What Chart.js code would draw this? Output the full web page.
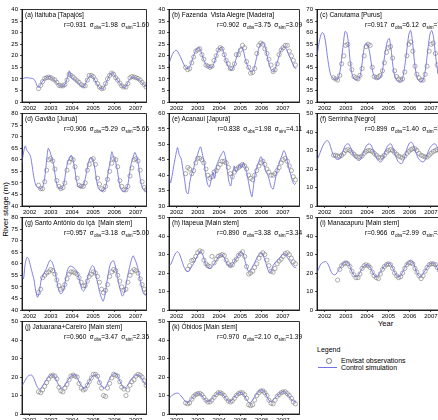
<!DOCTYPE html>
<html>
<head>
<meta charset="utf-8">
<script src="https://cdn.jsdelivr.net/npm/chart.js@4.4.1/dist/chart.umd.min.js"></script>
<style>
  body { margin: 0; background: #fff; }
  #wrap { position: relative; width: 438px; height: 420px; overflow: hidden; font-family: "Liberation Sans", Arial, sans-serif; color: #000; }
  .panel { position: absolute; }
  .ttl, .st { position: absolute; font-size: 6.5px; line-height: 7px; white-space: pre; }
  .st sub { font-size: 4.6px; vertical-align: -1.5px; line-height: 0; }
  .lbl { position: absolute; white-space: nowrap; }
</style>
</head>
<body>
<div id="wrap">
  <div class="lbl" style="left:-27px;top:205px;font-size:8px;transform:rotate(-90deg);width:64px;text-align:center;">River stage (m)</div>
  <div class="lbl" style="left:378px;top:319px;font-size:7.5px;">Year</div>
  <div class="lbl" style="left:317px;top:346px;font-size:7px;">Legend</div>
  <div style="position:absolute;left:326px;top:358px;width:3.6px;height:3.6px;border:0.7px solid #777;border-radius:50%;"></div>
  <div class="lbl" style="left:341px;top:356.5px;font-size:7px;">Envisat observations</div>
  <div style="position:absolute;left:318px;top:367px;width:19px;height:0;border-top:1px solid #7272e2;"></div>
  <div class="lbl" style="left:341px;top:363.5px;font-size:7px;">Control simulation</div>
</div>
<script>
// mois de la simulation (milieu du mois)
const simMonths = [
  "2001-08","2001-09","2001-10","2001-11","2001-12",
  "2002-01","2002-02","2002-03","2002-04","2002-05","2002-06","2002-07","2002-08","2002-09","2002-10","2002-11","2002-12",
  "2003-01","2003-02","2003-03","2003-04","2003-05","2003-06","2003-07","2003-08","2003-09","2003-10","2003-11","2003-12",
  "2004-01","2004-02","2004-03","2004-04","2004-05","2004-06","2004-07","2004-08","2004-09","2004-10","2004-11","2004-12",
  "2005-01","2005-02","2005-03","2005-04","2005-05","2005-06","2005-07","2005-08","2005-09","2005-10","2005-11","2005-12",
  "2006-01","2006-02","2006-03","2006-04","2006-05","2006-06","2006-07","2006-08","2006-09","2006-10","2006-11","2006-12",
  "2007-01","2007-02","2007-03","2007-04","2007-05","2007-06","2007-07","2007-08"
];

// passages Envisat (annee decimale)
const obsDates = [
  2002.42, 2002.52, 2002.61, 2002.71, 2002.80, 2002.90, 2002.99,
  2003.09, 2003.19, 2003.28, 2003.38, 2003.47, 2003.57, 2003.66, 2003.76, 2003.86, 2003.95,
  2004.05, 2004.14, 2004.24, 2004.33, 2004.43, 2004.53, 2004.62, 2004.72, 2004.81, 2004.91,
  2005.00, 2005.10, 2005.20, 2005.29, 2005.39, 2005.48, 2005.58, 2005.67, 2005.77, 2005.87, 2005.96,
  2006.06, 2006.15, 2006.25, 2006.34, 2006.44, 2006.54, 2006.63, 2006.73, 2006.82, 2006.92,
  2007.01, 2007.11, 2007.21, 2007.30, 2007.40, 2007.49, 2007.59
];

const yearTicks = [2002, 2003, 2004, 2005, 2006, 2007];

// (a) Itaituba
const simA = [9.4,10.2,10.5,10.5,10.4,10.3,10.2,9.8,8.5,6.5,6.5,8.0,9.2,10.0,10.6,11.0,11.0,10.3,9.6,9.0,8.0,7.2,6.9,6.8,7.0,8.5,11.0,13.5,10.5,10.0,9.6,9.0,8.3,7.4,6.6,6.6,7.8,9.5,10.8,11.5,11.2,10.0,8.5,7.2,6.3,5.8,5.8,7.0,8.8,10.5,12.0,12.7,12.0,10.8,9.6,8.7,7.6,6.6,6.2,6.8,8.3,9.8,10.6,10.8,10.5,10.2,9.8,9.2,8.4,7.6,7.2,7.0,7.4];
const obsA = [5.8,7.2,8.8,10.2,10.5,10.8,10.5,10,9.5,8.5,7.2,7,7,7.5,9.5,12,11.5,10.8,10,9.2,8.5,7.5,7,7,9.5,11.5,11.5,11,9.5,8,6.5,5.8,6,8,10,11.5,12.5,12,10.5,9.5,8.2,7,6.5,6.5,8,10.5,11,10.8,10.5,10.2,9.5,8.5,7.5,6.5,6.8];
// (b) Fazenda Vista Alegre
const simB = [16,18.5,20.5,21.8,22.4,22,20.5,19,17.2,15.6,14.6,14.4,15.5,17.5,19.8,21.8,23.2,23.8,22.5,20,17.8,16.2,15.3,15,14.8,15.6,17.8,20.2,22.4,23.5,23.6,21.5,18.8,16.5,14.8,13.8,14.2,16,18.5,21,22.8,23.8,22.8,19.5,16.8,14.8,13.5,13,14,17,20.5,23.5,25.3,25.8,25,22,18.5,15.5,13.6,13,14.2,16.5,19,21.5,23.2,23.8,23.5,22,20,18.5,16.5,14.8,14.5];
const obsB = [15,14,14.5,17,19.5,22,22.5,23,20.5,18.5,16,15.5,15,15.5,18,20,22.5,23.5,23,20.5,18,16.5,14.5,14.5,16.5,20.5,20.5,22.5,24.5,23.5,17.5,15,12.5,12.8,14.5,21,24.5,25.5,25,23,21,18.5,16,13.2,14,16.5,20.5,22.5,23.5,24.5,24.5,22,20,18,16];
// (c) Canutama
const simC = [48.5,54,58,60,59.5,56,50,45,41.5,40.5,40,39.8,40,42.5,48,55,60.5,60,55,47,42,40.2,39.6,39.5,40.2,43,49,54,55.5,54.5,51,46,42,40.5,40,39.8,40.5,43,48,53,56.5,57.5,53,46,41.5,39.5,38.8,38.5,39.2,42,47,53,59,61,57,49,43,40,39,38.8,39.5,42,47.5,54,59.5,61,58,51,45,41.5,40,39.5,40];
const obsC = [40.5,40,39.5,41.5,46.5,50,54.5,55,46.5,44,41,40.5,40,41.5,44.5,50,54,55,54.5,45,41,40.5,41,41.5,43.5,47,51.5,53.5,54,49,43.5,41,40,39.5,40,43,50,55,56,52,45.5,42,40.5,39.5,39.5,42,45.5,52,55,55.5,51,46,43,41,40];
// (d) Gaviao
const simD = [58,63,66,64,63,61.5,57,52,49,48,47.6,47.5,48.5,52,59,65,63.5,61,58,53,49,47.8,47.4,47.8,50,55,59,60.5,62,60,56,51,48.5,48,48.2,49,52,56,59.5,61,60.5,58,53,48.5,47,46.5,46.5,47.5,50,55,59,63.5,61,59.5,56,51,47.5,46.5,46.3,47,49,54,58.5,61,63.2,61.5,58,52,48.5,47,46.5,46.5,47];
const obsD = [49,47.5,47.5,50.5,55.5,60,60.5,59.5,56,51,48.5,47.5,48,50,55.5,59,60.5,60,57,52,49,48.5,48.5,50,55.5,58,60,60.5,58,52,49.5,47.5,47,48.5,51.5,55,58.5,60.5,60,57,51,48.5,47,47,48.5,53,56.5,60,60.5,59.5,55.5,50.5,48,47,46.5];
// (e) Acanaui
const simE = [41.5,37.5,40,43.5,46.5,49,46.5,45.5,42,38.5,34.5,34,38,40.5,42,44.5,46,48,49.2,47,44,40,37,36.2,38.5,41,39,43,44.5,46,47,47.8,46,42,38,36.5,40,43,41,42,43.5,42.5,44,43,41,38,35,33,37,41,43,44.5,46,45,43,41,40,38,36,35.5,38,41,43.5,45,46.5,48,47,44.5,42,40,38,37,37.5];
const obsE = [40.5,42.5,42,40.5,41.5,44,45.5,45.5,45,44,42,40,39,39.5,41,41.5,42.5,43.5,44.5,44.5,44,42.5,40.5,39.5,41,42,42.5,43,43.5,43,42,40,39,38.5,40,41.5,43,44,44.5,43.5,42,41,40,40,40.5,41.5,42.5,44,45,45.5,44.5,43,41.5,39.5,38.5];
// (f) Serrinha
const simF = [24.6,26.5,29,31.5,33.5,34.8,35.4,34.5,31.5,28.5,26.5,25.5,25.2,25.5,27.5,30,32.5,33.5,33.6,32,29.5,27.5,26,25,24.6,25.5,28,30.5,32.5,33.4,33.6,32.5,30,27.5,25.5,24.3,23.8,24.5,27.5,30.5,32.5,33.4,33.6,31.5,28.5,26,24,23.2,22.9,24.5,27.5,31,33.5,34.5,34.2,32,29,26.5,25,24.2,23.8,24.5,27,29.5,31.5,32.8,33.5,33.6,32,30,28,26.5,25.5];
const obsF = [27.5,27.5,27,26.8,27.5,28.5,30,30.5,30,29,28,27,26.5,26.5,27,28.5,29.5,30,30,29.5,28.5,27.5,26.5,26,26.5,27.5,29,30,30.5,30,29,28,27,26.5,26,27,28.5,29.5,30.5,31,31,30,28.5,27.5,27,26.5,26.5,27.5,28.5,29.5,30,30.5,30,29,28];
// (g) Santo Antonio do Ica
const simG = [55.5,53.5,60,62.8,62,59,56,53,48,45.5,48,53,55,56.5,58,60,61.5,61,59,56,52,48.5,47,47.5,49.5,54,57.5,58.8,59,58.5,58,57,55,52,49,48.2,49.5,53,56,58,59.2,58.5,55,51.5,48,45.5,43.8,46,51,56,59.5,61,61.3,59,55,51,48,46,47.5,51,55,58.5,61.5,63.5,62,60,57,53,49.5,47,46.5,47.5,49];
const obsG = [47.5,49,54,55,56,56.5,57.5,57,55.5,53,50.5,49,49.5,51,53.5,55.5,56.5,56.5,56,55.5,54,52,50.5,50.5,52.5,54.5,55.5,56.5,56,54.5,52,49,47.5,48.5,51,54.5,56.5,57.5,57,55,52.5,50,48.5,49,52,55,56.5,57.5,57,56,53.5,51,49,47.5,47];
// (h) Itapeua
const simH = [24.4,24.5,26.5,29,30.8,31.6,30.5,28,25,22.5,21,20.8,22,23.5,25,27,29,30.8,31.6,30.5,27.5,24.5,22.8,22.5,23,24,25.5,27,28.5,29.5,29.8,29,27,25,23.8,23.5,24.5,26,27.5,29,30.5,31.5,30.5,27,23.5,21,21.5,23,24.5,26.5,28.5,30,30.7,30.3,28,25,22,20,21.5,24,25.5,26.5,27.5,28.5,29.8,30.7,30,28.5,27,25.5,24,23,23];
const obsH = [null,22,24,26.8,27,29,31,32,31.5,27,25,24,23.5,29,25.5,27.5,29,29.5,30,29.5,27,25,24,24.5,26.5,27.5,29.5,30.5,31.5,29,23.5,19.5,20,21,23,25,28,30,31,30,27,24,21,20.5,22.5,25,26.5,27.5,29,30.5,31,30,28,26,25];
// (i) Manacapuru
const simI = [19.9,22,24.3,25.5,26,26.2,25.5,23.5,21,19.5,19,19.5,21,22.5,24,25.3,26,26.2,25.5,23,20.5,19,18.2,18,19.5,21.5,23,24,24.4,24.4,23.5,21.5,19.5,18.3,18,18.8,20.5,22,23.5,24.5,25.2,25.3,24.5,22.5,20.3,18.8,18,18.2,19.5,21.5,23.5,25,26.3,27,26.5,24.5,21.5,19.3,18.2,18.2,19.5,21,22.5,24,25,25.3,25.3,24.5,23,21,19.5,18.5,18.5];
const obsI = [null,null,16.2,22,24,25,25.5,25,23.5,21,19,17.5,17.5,19.5,22.5,24,24.5,24,23,20.5,18.5,17.5,17,19.5,22,23.5,24.5,25,24.5,22.5,20,18.5,17.5,18,20,22.5,24.5,25.5,25.5,25,22.5,20.5,18.5,17,18.5,21,23,24.5,25,25,24.5,23,21.5,19.5,18];
// (j) Jatuarana+Careiro
const simJ = [15,16.5,18.3,19.8,20.8,21.1,20.8,19,16.5,14.3,13.5,14,15.5,17,18.5,19.8,20.7,21.2,21,19.5,17.5,15.5,14.2,14,15,16.5,18,19.5,20.5,21,21.2,20.2,18.5,16.5,15,14.2,14,15.5,17.3,19,20.5,21,21.2,19.8,17.5,15.5,14.2,14,15.5,17.5,19.5,21,21.8,22,21,19,16.8,15,14.1,14.3,15.8,17.3,18.8,20,20.6,21,21.2,20.5,19,17.5,16,15,15];
const obsJ = [12,11.5,13,15,17,19,20.5,21,20.5,19,14.5,12.5,12,14,16,18.5,20.5,21,20.5,20,16.5,14,13,13.5,15.5,17.5,19.5,21.5,21.5,20.5,17,14,10,9.5,14,16.5,19.5,21.5,21,20.5,17.5,14.5,13.5,10,13,15.5,17.5,18.5,20.5,21.5,21,20,18,15.5,14.5];
// (k) Obidos
const simK = [8.1,9.2,10.2,10.8,11.2,11.3,10.8,9.8,8.5,7.2,6.5,6.4,7.2,8.3,9.5,10.5,11.1,11.3,10.8,9.6,8.3,7.3,6.8,7,7.8,8.8,9.8,10.7,11.4,11.7,11.3,10.2,8.8,7.6,6.9,6.9,7.8,9,10.2,11,11.5,11.7,11,9.5,7.8,6.3,6.1,7,8.5,10,11.3,12.3,12.9,13,12.2,10.5,8.5,7,6.9,7.6,8.6,9.6,10.5,11.3,11.9,12.2,11.8,10.8,9.5,8.2,7.2,6.8,7];
const obsK = [6,5.5,6,8,9.5,10.5,11,11.2,10.5,9,7.5,6.5,6.5,7.5,9,10.5,11.5,11.5,11,10,8.5,7,6.5,7,8.5,10,11,11.5,11.5,10.5,8.5,5,4.5,5,7.5,10,11.5,12.5,12.5,11.5,10,7.5,5.8,5.5,7.5,9.5,10.5,11.5,12,12,11,10,8.5,6.5,5.5];

const panels = [
  { tag: "a", name: "Itaituba [Tapajós]", r: "0.931", so: "1.98", ss: "1.60", yMin: 0, yMax: 40, sim: simA, obs: obsA },
  { tag: "b", name: "Fazenda  Vista Alegre [Madeira]", r: "0.902", so: "3.75", ss: "3.09", yMin: 0, yMax: 40, sim: simB, obs: obsB },
  { tag: "c", name: "Canutama [Purus]", r: "0.917", so: "6.12", ss: "7.36", yMin: 30, yMax: 70, sim: simC, obs: obsC },
  { tag: "d", name: "Gavião [Juruá]", r: "0.906", so: "5.29", ss: "5.66", yMin: 40, yMax: 80, sim: simD, obs: obsD },
  { tag: "e", name: "Acanaui [Japurá]", r: "0.838", so: "1.98", ss: "4.11", yMin: 30, yMax: 60, sim: simE, obs: obsE },
  { tag: "f", name: "Serrinha [Negro]", r: "0.899", so: "1.40", ss: "3.25", yMin: 0, yMax: 50, sim: simF, obs: obsF },
  { tag: "g", name: "Santo Antônio do Içá  [Main stem]", r: "0.957", so: "3.18", ss: "5.00", yMin: 40, yMax: 80, sim: simG, obs: obsG },
  { tag: "h", name: "Itapeua [Main stem]", r: "0.890", so: "3.38", ss: "3.34", yMin: 0, yMax: 50, sim: simH, obs: obsH },
  { tag: "i", name: "Manacapuru [Main stem]", r: "0.966", so: "2.99", ss: "2.51", yMin: 0, yMax: 50, sim: simI, obs: obsI },
  { tag: "j", name: "Jatuarana+Careiro [Main stem]", r: "0.960", so: "3.47", ss: "2.35", yMin: 0, yMax: 50, sim: simJ, obs: obsJ },
  { tag: "k", name: "Óbidos [Main stem]", r: "0.970", so: "2.10", ss: "1.39", yMin: 0, yMax: 50, sim: simK, obs: obsK }
];

// mise en page
const FONT = '"Liberation Sans", Arial, sans-serif';
const colX = [22, 169, 317];
const colW = [129, 135, 135];
const rowY = [9, 113, 217, 321];
const plotH = 93;
const AXW = 20, AXH = 10, PADT = 5;
const xStart = 2001.64, pxYear = 22;

const simX = simMonths.map(m => {
  const [y, mo] = m.split("-").map(Number);
  return y + (mo - 0.5) / 12;
});

const frame = {
  id: "frame",
  afterDraw(chart) {
    const a = chart.chartArea, ctx = chart.ctx;
    ctx.save();
    ctx.strokeStyle = "#000";
    ctx.lineWidth = 0.8;
    ctx.strokeRect(a.left, a.top, a.right - a.left, a.bottom - a.top);
    ctx.restore();
  }
};

const wrap = document.getElementById("wrap");

panels.forEach((p, i) => {
  const col = i % 3, row = Math.floor(i / 3);
  const ax = colX[col], top = rowY[row], w = colW[col];

  const box = document.createElement("div");
  box.className = "panel";
  box.style.left = (ax - AXW) + "px";
  box.style.top = (top - PADT) + "px";
  const cv = document.createElement("canvas");
  cv.width = AXW + w;
  cv.height = PADT + plotH + AXH;
  box.appendChild(cv);
  wrap.appendChild(box);

  const simPts = p.sim.map((v, k) => ({ x: simX[k], y: v }));
  const obsPts = [];
  p.obs.forEach((v, k) => { if (v !== null) obsPts.push({ x: obsDates[k], y: v }); });

  new Chart(cv, {
    type: "line",
    data: {
      datasets: [
        { data: simPts, borderColor: "#7272e2", borderWidth: 0.9, pointRadius: 0, tension: 0.25, order: 0 },
        { data: obsPts, showLine: false, pointRadius: 2.1, borderColor: "#777", borderWidth: 0.6,
          backgroundColor: "rgba(255,255,255,0)", order: 1 }
      ]
    },
    options: {
      responsive: false, animation: false, devicePixelRatio: 1,
      layout: { padding: { top: PADT, left: 0, right: 0, bottom: 0 } },
      plugins: { legend: { display: false }, tooltip: { enabled: false } },
      scales: {
        x: {
          type: "linear", min: xStart, max: xStart + w / pxYear,
          afterBuildTicks: s => { s.ticks = yearTicks.map(v => ({ value: v })); },
          afterFit: s => { s.height = AXH; },
          grid: { drawOnChartArea: false, tickLength: 2, color: "#000", lineWidth: 0.7 },
          border: { color: "#000", width: 0.8 },
          ticks: { font: { family: FONT, size: 6 }, color: "#000", padding: 1, maxRotation: 0, autoSkip: false,
                   callback: v => String(v) }
        },
        y: {
          min: p.yMin, max: p.yMax,
          afterFit: s => { s.width = AXW; },
          grid: { drawOnChartArea: false, tickLength: 2, color: "#000", lineWidth: 0.7 },
          border: { color: "#000", width: 0.8 },
          ticks: { stepSize: 5, font: { family: FONT, size: 6 }, color: "#000", padding: 2 }
        }
      }
    },
    plugins: [frame]
  });

  const t = document.createElement("div");
  t.className = "ttl";
  t.style.left = (ax + 3) + "px";
  t.style.top = (top + 2) + "px";
  t.textContent = "(" + p.tag + ") " + p.name;
  wrap.appendChild(t);

  const s = document.createElement("div");
  s.className = "st";
  s.style.right = (438 - (ax + w - 2)) + "px";
  s.style.top = (top + 12) + "px";
  s.innerHTML = "r=" + p.r + "  σ<sub>obs</sub>=" + p.so + "  σ<sub>sim</sub>=" + p.ss;
  wrap.appendChild(s);
});
</script>
</body>
</html>
